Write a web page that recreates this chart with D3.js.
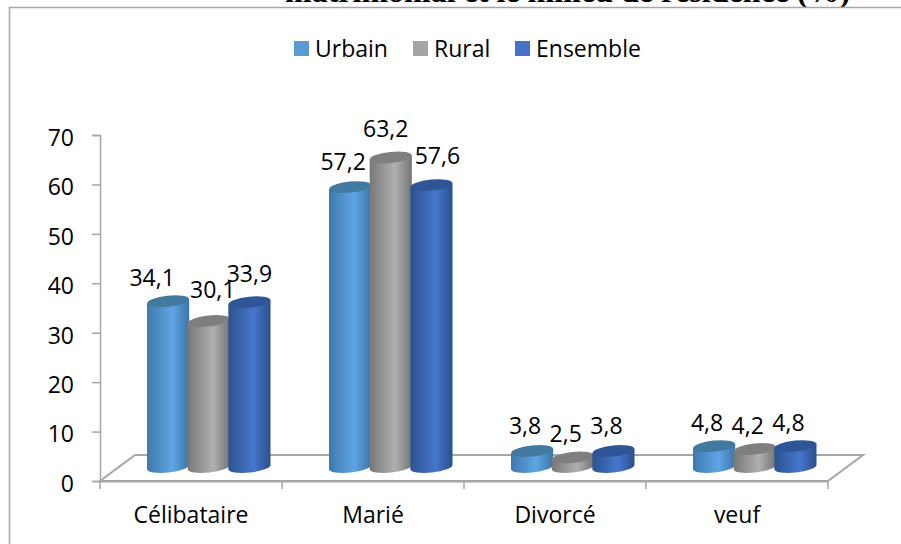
<!DOCTYPE html>
<html lang="fr">
<head>
    <meta charset="utf-8">
    <style>
        body { margin: 0; background: #fff; }
        svg { display: block; }
        text { font-family: "Open Sans", "Noto Sans", sans-serif; fill: #000; }
    </style>
</head>
<body>
    <svg width="901" height="544"></svg>
    <script src="https://cdn.jsdelivr.net/npm/d3@7/dist/d3.min.js"></script>
    <script>
        const categories = ["Célibataire", "Marié", "Divorcé", "veuf"];
        const seriesNames = ["Urbain", "Rural", "Ensemble"];
        const urbain = [34.1, 57.2, 3.8, 4.8];
        const rural = [30.1, 63.2, 2.5, 4.2];
        const ensemble = [33.9, 57.6, 3.8, 4.8];
        const yTicks = [0, 10, 20, 30, 40, 50, 60, 70];
        const titleText = "matrimonial et le milieu de résidence (%)";

        const seriesValues = [urbain, rural, ensemble];
        const legendColors = ["#5b9bd5", "#a5a5a5", "#4472c4"];
        // left edge, middle, right edge of each cylinder; last one is the top cap
        const shades = [
            ["#3f79ad", "#5ea5e3", "#3d75a8", "#41799f"],
            ["#777777", "#b0b0b0", "#747474", "#7f7f7f"],
            ["#2c5291", "#4676cc", "#2b4f8c", "#2f5597"]
        ];
        // Hand-placed data labels in the original: shift from the cylinder centre, height above its top
        const labelDx = [[-16, 4, 0], [-7, -5, 6], [-7, -7, -7], [-7, -7, -7]];
        const labelDy = [[15, 23, 20], [17, 20, 21], [17, 15, 17], [15, 15, 15]];

        const svg = d3.select("svg");

        // Chart frame, the page title is cut off by its top edge
        svg.append("text")
            .attr("x", 285)
            .attr("y", 2)
            .style("font-family", '"Liberation Serif", serif')
            .style("font-weight", "bold")
            .style("font-size", "32px")
            .text(titleText);
        svg.append("rect")
            .attr("x", 0).attr("y", 7).attr("width", 901).attr("height", 6)
            .attr("fill", "#fff");
        svg.append("rect")
            .attr("x", 9.5).attr("y", 7.5).attr("width", 900).attr("height", 560)
            .attr("fill", "#fff")
            .attr("stroke", "#a6a6a6")
            .attr("stroke-width", 1.5);

        const yScale = d3.scaleLinear().domain([0, 70]).range([481, 135]);
        const xScale = d3.scaleBand().domain(categories).range([100, 828]);
        const seriesScale = d3.scaleBand().domain(seriesNames).range([0, 122]);

        // Depth of the 3D floor
        const depthX = 35, depthY = 26;
        const barShift = 17, topLift = 11.2, bottomLift = 14;
        const ry = 5.5, tiltDeg = -6;

        /* Gradients */
        const defs = svg.append("defs");
        shades.forEach((s, i) => {
            const g = defs.append("linearGradient").attr("id", `cyl${i}`);
            g.append("stop").attr("offset", "0%").attr("stop-color", s[0]);
            g.append("stop").attr("offset", "60%").attr("stop-color", s[1]);
            g.append("stop").attr("offset", "100%").attr("stop-color", s[2]);
        });

        /* Floor */
        const axisColor = "#a6a6a6";
        const x0 = xScale.range()[0], x1 = xScale.range()[1];
        const y0 = yScale(0);
        svg.append("path")
            .attr("d", `M${x0},${y0} L${x0 + depthX},${y0 - depthY} L${x1 + depthX},${y0 - depthY} L${x1},${y0} Z`)
            .attr("fill", "none")
            .attr("stroke", axisColor)
            .attr("stroke-width", 2);

        /* Axes */
        const yAxis = svg.append("g")
            .attr("transform", `translate(${x0}, 0)`)
            .call(d3.axisLeft(yScale).tickValues(yTicks).tickSize(8).tickPadding(18));
        const xAxis = svg.append("g")
            .attr("transform", `translate(0, ${y0})`)
            .call(d3.axisBottom(xScale).tickSize(0).tickPadding(25.5));
        yAxis.selectAll("path, line").attr("stroke", axisColor).attr("stroke-width", 1.5);
        xAxis.select("path").attr("stroke", axisColor).attr("stroke-width", 2);
        yAxis.selectAll("text")
            .attr("y", 3)
            .style("font-size", "23px")
            .style("font-family", '"Open Sans", sans-serif')
            .attr("fill", "#000");
        xAxis.selectAll("text").style("font-size", "23px").style("font-family", '"Open Sans", sans-serif').attr("fill", "#000");
        xAxis.selectAll(".bound")
            .data(xScale.domain().map(d => xScale(d)).concat([x1]))
            .enter().append("line")
            .attr("x1", d => d).attr("x2", d => d)
            .attr("y1", 0).attr("y2", 8)
            .attr("stroke", axisColor)
            .attr("stroke-width", 1.5);

        /* Cylinders */
        const barWidth = seriesScale.bandwidth() + 1.5;
        const tiltY = (barWidth / 2) * Math.sin(-tiltDeg * Math.PI / 180);
        categories.forEach((cat, c) => {
            seriesNames.forEach((name, s) => {
                const v = seriesValues[s][c];
                const left = xScale(cat) + (xScale.bandwidth() - 122) / 2 + barShift + seriesScale(name);
                const right = left + barWidth;
                const rx = barWidth / 2;
                const bottom = y0 - bottomLift;
                const top = yScale(v) - topLift;
                svg.append("path")
                    .attr("d", `M${left},${top + tiltY} L${left},${bottom + tiltY} A${rx},${ry} ${tiltDeg} 0 0 ${right},${bottom - tiltY} L${right},${top - tiltY} Z`)
                    .attr("fill", `url(#cyl${s})`);
                svg.append("ellipse")
                    .attr("cx", left + rx).attr("cy", top)
                    .attr("rx", rx).attr("ry", ry)
                    .attr("transform", `rotate(${tiltDeg} ${left + rx} ${top})`)
                    .attr("fill", shades[s][3]);
                svg.append("text")
                    .attr("x", left + rx + labelDx[c][s])
                    .attr("y", top - labelDy[c][s])
                    .attr("text-anchor", "middle")
                    .style("font-size", "23px")
                    .text(String(v.toFixed(1)).replace(".", ","));
            });
        });

        /* Legend */
        const legendX = [294, 413, 515];
        seriesNames.forEach((name, i) => {
            svg.append("rect")
                .attr("x", legendX[i]).attr("y", 41)
                .attr("width", 15).attr("height", 15)
                .attr("fill", legendColors[i]);
            svg.append("text")
                .attr("x", legendX[i] + 21).attr("y", 56.5)
                .style("font-size", "23px")
                .text(name);
        });
    </script>
</body>
</html>
